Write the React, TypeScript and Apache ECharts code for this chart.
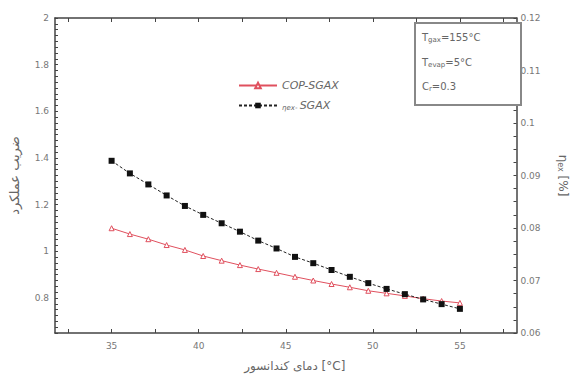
import React, { useEffect, useRef } from "react";
import * as echarts from "echarts";

// Condenser temperature (°C)
const condTemp = [35, 36.05, 37.11, 38.16, 39.21, 40.26, 41.32, 42.37, 43.42, 44.47, 45.53, 46.58, 47.63, 48.68, 49.74, 50.79, 51.84, 52.89, 53.95, 55];
// COP - SGAX (left axis)
const copSgax = [1.099, 1.074, 1.052, 1.027, 1.006, 0.98, 0.96, 0.941, 0.924, 0.908, 0.891, 0.875, 0.86, 0.846, 0.831, 0.82, 0.809, 0.797, 0.787, 0.779];
// Exergy efficiency - SGAX (right axis)
const etaSgax = [0.0928, 0.0904, 0.0883, 0.0862, 0.0842, 0.0825, 0.0809, 0.0793, 0.0776, 0.0761, 0.0745, 0.0733, 0.072, 0.0707, 0.0695, 0.0684, 0.0674, 0.0664, 0.0655, 0.0646];

const xLabels = [35, 40, 45, 50, 55];
const xTicks = [32.5, 35, 37.5, 40, 42.5, 45, 47.5, 50, 52.5, 55, 57.5];
const leftLabels = [0.8, 1, 1.2, 1.4, 1.6, 1.8, 2];
const leftTicks = [0.65, 0.675, 0.7, 0.725, 0.75, 0.775, 0.8, 0.825, 0.85, 0.875, 0.9, 0.925, 0.95, 0.975, 1, 1.025, 1.05, 1.075, 1.1, 1.125, 1.15, 1.175, 1.2, 1.225, 1.25, 1.275, 1.3, 1.325, 1.35, 1.375, 1.4, 1.425, 1.45, 1.475, 1.5, 1.525, 1.55, 1.575, 1.6, 1.625, 1.65, 1.675, 1.7, 1.725, 1.75, 1.775, 1.8, 1.825, 1.85, 1.875, 1.9, 1.925, 1.95, 1.975, 2];
const rightTicks = [0.06, 0.0625, 0.065, 0.0675, 0.07, 0.0725, 0.075, 0.0775, 0.08, 0.0825, 0.085, 0.0875, 0.09, 0.0925, 0.095, 0.0975, 0.1, 0.1025, 0.105, 0.1075, 0.11, 0.1125, 0.115, 0.1175, 0.12];

const seriesNames = ["COP-SGAX", "ηex- SGAX"];
const FONT = "DejaVu Sans, Liberation Sans, sans-serif";

export default function App() {
  const ref = useRef<HTMLDivElement>(null);
  useEffect(() => {
    if (!ref.current) return;
    const chart = echarts.init(ref.current, null, { renderer: "svg" });
    const axisLine = { show: true, lineStyle: { color: "#444", width: 1.5 } };
    const labelStyle = { color: "#777", fontSize: 9, fontFamily: FONT };
    chart.setOption({
      animation: false,
      backgroundColor: "#fff",
      textStyle: { fontFamily: FONT },
      grid: { left: 55, right: 50, top: 18, bottom: 46, containLabel: false },
      legend: {
        orient: "vertical",
        left: 233,
        top: 75,
        itemGap: 9,
        itemWidth: 38,
        itemHeight: 7,
        data: seriesNames,
        textStyle: { color: "#666", fontSize: 11, fontStyle: "italic", fontFamily: FONT,
          rich: {
            n: { color: "#666", fontSize: 11, fontStyle: "italic", fontFamily: FONT },
            s: { color: "#666", fontSize: 7, fontFamily: FONT, verticalAlign: "bottom", padding: [4, 0, 0, 0] },
          } },
        formatter: (name: string) => name === seriesNames[1] ? "{s|η}{s|ex}{s|- }{n|SGAX}" : "{n|" + name + "}",
      },
      xAxis: [
        {
          type: "value", min: 31.75, max: 58.25, position: "bottom",
          name: "دمای کندانسور [°C]", nameLocation: "middle", nameGap: 27,
          nameTextStyle: { color: "#666", fontSize: 12, fontFamily: FONT, padding: [0, 0, 0, 18] },
          axisLine, splitLine: { show: false },
          axisTick: { show: true, inside: true, length: 4, customValues: xTicks, lineStyle: { color: "#444" } },
          axisLabel: { ...labelStyle, margin: 8, customValues: xLabels },
        },
        {
          type: "value", min: 31.75, max: 58.25, position: "top",
          axisLine, splitLine: { show: false },
          axisTick: { show: true, inside: true, length: 4, customValues: xTicks, lineStyle: { color: "#444" } },
          axisLabel: { show: false },
        },
      ],
      yAxis: [
        {
          type: "value", min: 0.65, max: 2, position: "left",
          name: "ضریب عملکرد", nameLocation: "middle", nameGap: 34, nameRotate: 90,
          nameTextStyle: { color: "#666", fontSize: 13, fontFamily: FONT },
          axisLine, splitLine: { show: false },
          axisTick: { show: true, inside: true, length: 3, customValues: leftTicks, lineStyle: { color: "#444" } },
          axisLabel: { ...labelStyle, margin: 6, customValues: leftLabels },
        },
        {
          type: "value", min: 0.06, max: 0.12, interval: 0.01, position: "right",
          name: "{n|η}{s|ex}{n| [%]}", nameLocation: "middle", nameGap: 40, nameRotate: -90,
          nameTextStyle: { color: "#666", fontSize: 12, fontFamily: FONT,
            rich: { n: { color: "#666", fontSize: 12, fontFamily: FONT }, s: { color: "#666", fontSize: 8, fontFamily: FONT, padding: [5, 0, 0, 0] } } },
          axisLine, splitLine: { show: false },
          axisTick: { show: true, inside: true, length: 3, customValues: rightTicks, lineStyle: { color: "#444" } },
          axisLabel: { ...labelStyle, margin: 4 },
        },
      ],
      graphic: [
        { type: "rect", shape: { x: 415, y: 23, width: 106, height: 82 }, style: { fill: "#fff", stroke: "#888", lineWidth: 2 }, z: 10 },
        {
          type: "text", x: 422, y: 31, z: 11,
          style: {
            text: "{t|T}{s|gax}{t|=155°C}",
            rich: { t: { fontSize: 10, fill: "#666", fontFamily: FONT }, s: { fontSize: 7, fill: "#666", fontFamily: FONT, padding: [5, 0, 0, 0] } },
          },
        },
        {
          type: "text", x: 422, y: 56, z: 11,
          style: {
            text: "{t|T}{s|evap}{t|=5°C}",
            rich: { t: { fontSize: 10, fill: "#666", fontFamily: FONT }, s: { fontSize: 7, fill: "#666", fontFamily: FONT, padding: [5, 0, 0, 0] } },
          },
        },
        {
          type: "text", x: 422, y: 80, z: 11,
          style: {
            text: "{t|C}{s|r}{t|=0.3}",
            rich: { t: { fontSize: 10, fill: "#666", fontFamily: FONT }, s: { fontSize: 7, fill: "#666", fontFamily: FONT, padding: [5, 0, 0, 0] } },
          },
        },
      ],
      series: [
        {
          name: seriesNames[0], type: "line", xAxisIndex: 0, yAxisIndex: 0,
          data: condTemp.map((x, i) => [x, copSgax[i]]),
          lineStyle: { color: "#e0505e", width: 1 },
          itemStyle: { color: "#fff", borderColor: "#e0505e", borderWidth: 1 },
          symbol: "triangle", symbolSize: 5, showSymbol: true,
        },
        {
          name: seriesNames[1], type: "line", xAxisIndex: 0, yAxisIndex: 1,
          data: condTemp.map((x, i) => [x, etaSgax[i]]),
          lineStyle: { color: "#222", width: 1, type: [3, 2] },
          itemStyle: { color: "#111" },
          symbol: "rect", symbolSize: 6, showSymbol: true,
        },
      ],
    });
    return () => chart.dispose();
  }, []);
  return <div ref={ref} style={{ width: 577, height: 379, position: "absolute", left: 0, top: 0 }} />;
}
